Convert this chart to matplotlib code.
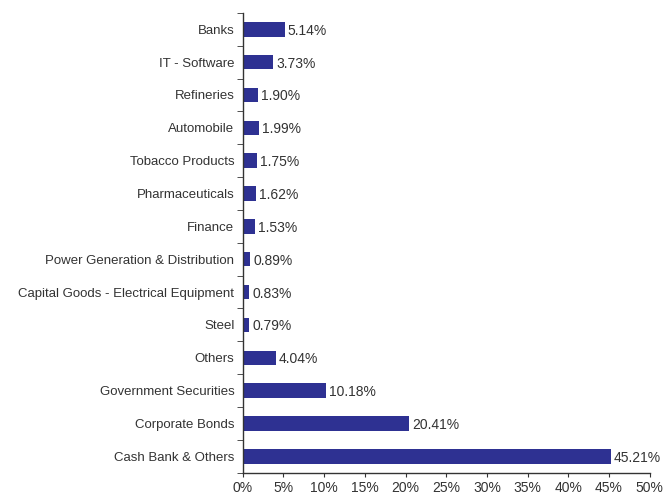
import matplotlib
matplotlib.use("Agg")
import matplotlib.pyplot as plt
import numpy as np

# Sector / asset allocation (top to bottom)
categories = ["Banks", "IT - Software", "Refineries", "Automobile", "Tobacco Products",
              "Pharmaceuticals", "Finance", "Power Generation & Distribution",
              "Capital Goods - Electrical Equipment", "Steel", "Others",
              "Government Securities", "Corporate Bonds", "Cash Bank & Others"]
values = [5.14, 3.73, 1.90, 1.99, 1.75, 1.62, 1.53, 0.89, 0.83, 0.79, 4.04,
          10.18, 20.41, 45.21]
xticks = [0, 5, 10, 15, 20, 25, 30, 35, 40, 45, 50]

plt.rcParams['font.family'] = ['Liberation Sans', 'DejaVu Sans']
text_color = "#333333"

fig = plt.figure(figsize=(6.65, 4.95), dpi=100)
ax = fig.add_axes([0.365, 0.045, 0.612, 0.929])

y = np.arange(len(categories))
ax.barh(y, values, height=0.44, color="#2E3192")
for yi, v in zip(y, values):
    ax.text(v + 0.4, yi, f"{v:.2f}%", va="center_baseline", ha="left",
            fontsize=10, color=text_color)

ax.set_ylim(len(categories) - 0.5, -0.5)
ax.set_xlim(0, 50)
ax.set_yticks(y)
ax.set_yticklabels(categories, fontsize=9.5, color=text_color, va="center_baseline")
ax.tick_params(axis="y", which="major", length=0, pad=6)
ax.set_yticks(np.arange(-0.5, len(categories)), minor=True)
ax.tick_params(axis="y", which="minor", length=4, color="#333333")

ax.set_xticks(xticks)
ax.set_xticklabels([f"{t}%" for t in xticks], fontsize=10, color=text_color)
ax.tick_params(axis="x", length=3, pad=3, color="#333333")

for s in ["top", "right"]:
    ax.spines[s].set_visible(False)
for s in ["left", "bottom"]:
    ax.spines[s].set_color("#333333")
    ax.spines[s].set_linewidth(1.0)

fig.savefig("out.png", dpi=100)
